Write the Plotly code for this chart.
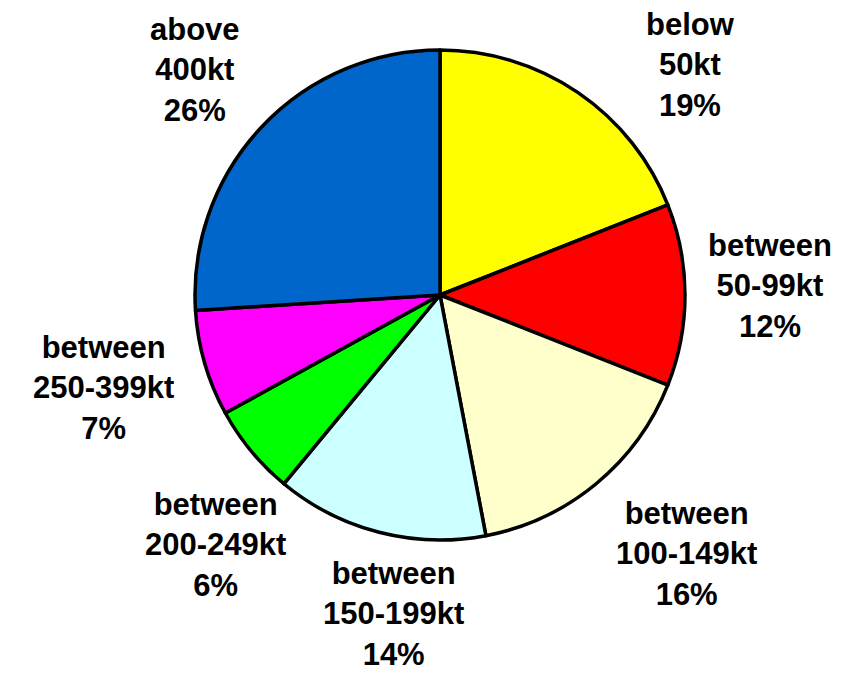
import plotly.graph_objects as go

categories = ["below<br>50kt", "between<br>50-99kt", "between<br>100-149kt",
              "between<br>150-199kt", "between<br>200-249kt",
              "between<br>250-399kt", "above<br>400kt"]
percent_values = [19, 12, 16, 14, 6, 7, 26]
slice_colors = ["#FFFF00", "#FF0000", "#FFFFCC", "#CCFFFF", "#00FF00", "#FF00FF", "#0066CC"]

# label placement (pixel centre of each label block), layout only
label_pos_px = [(690, 65), (770, 286), (686, 554), (393, 614), (215, 545), (103, 388), (195, 70)]

W, H = 850, 674
cx, cy, r = 440, 295, 245

fig = go.Figure(go.Pie(
    labels=categories,
    values=percent_values,
    sort=False,
    direction="clockwise",
    rotation=0,
    marker=dict(colors=slice_colors, line=dict(color="black", width=3.5)),
    textinfo="none",
    hoverinfo="label+percent",
    showlegend=False,
    domain=dict(x=[(cx - r) / W, (cx + r) / W], y=[1 - (cy + r) / H, 1 - (cy - r) / H]),
))

for lab, val, (px, py) in zip(categories, percent_values, label_pos_px):
    fig.add_annotation(
        x=px / W, y=1 - py / H, xref="paper", yref="paper",
        xanchor="center", yanchor="middle",
        text=f"{lab}<br>{val}%",
        showarrow=False,
        align="center",
        font=dict(family="Liberation Sans, Arial, sans-serif", size=31, color="black", weight="bold"),
    )

fig.update_layout(
    width=W, height=H,
    margin=dict(l=0, r=0, t=0, b=0),
    paper_bgcolor="white",
    plot_bgcolor="white",
)

fig.write_html("out.html")
